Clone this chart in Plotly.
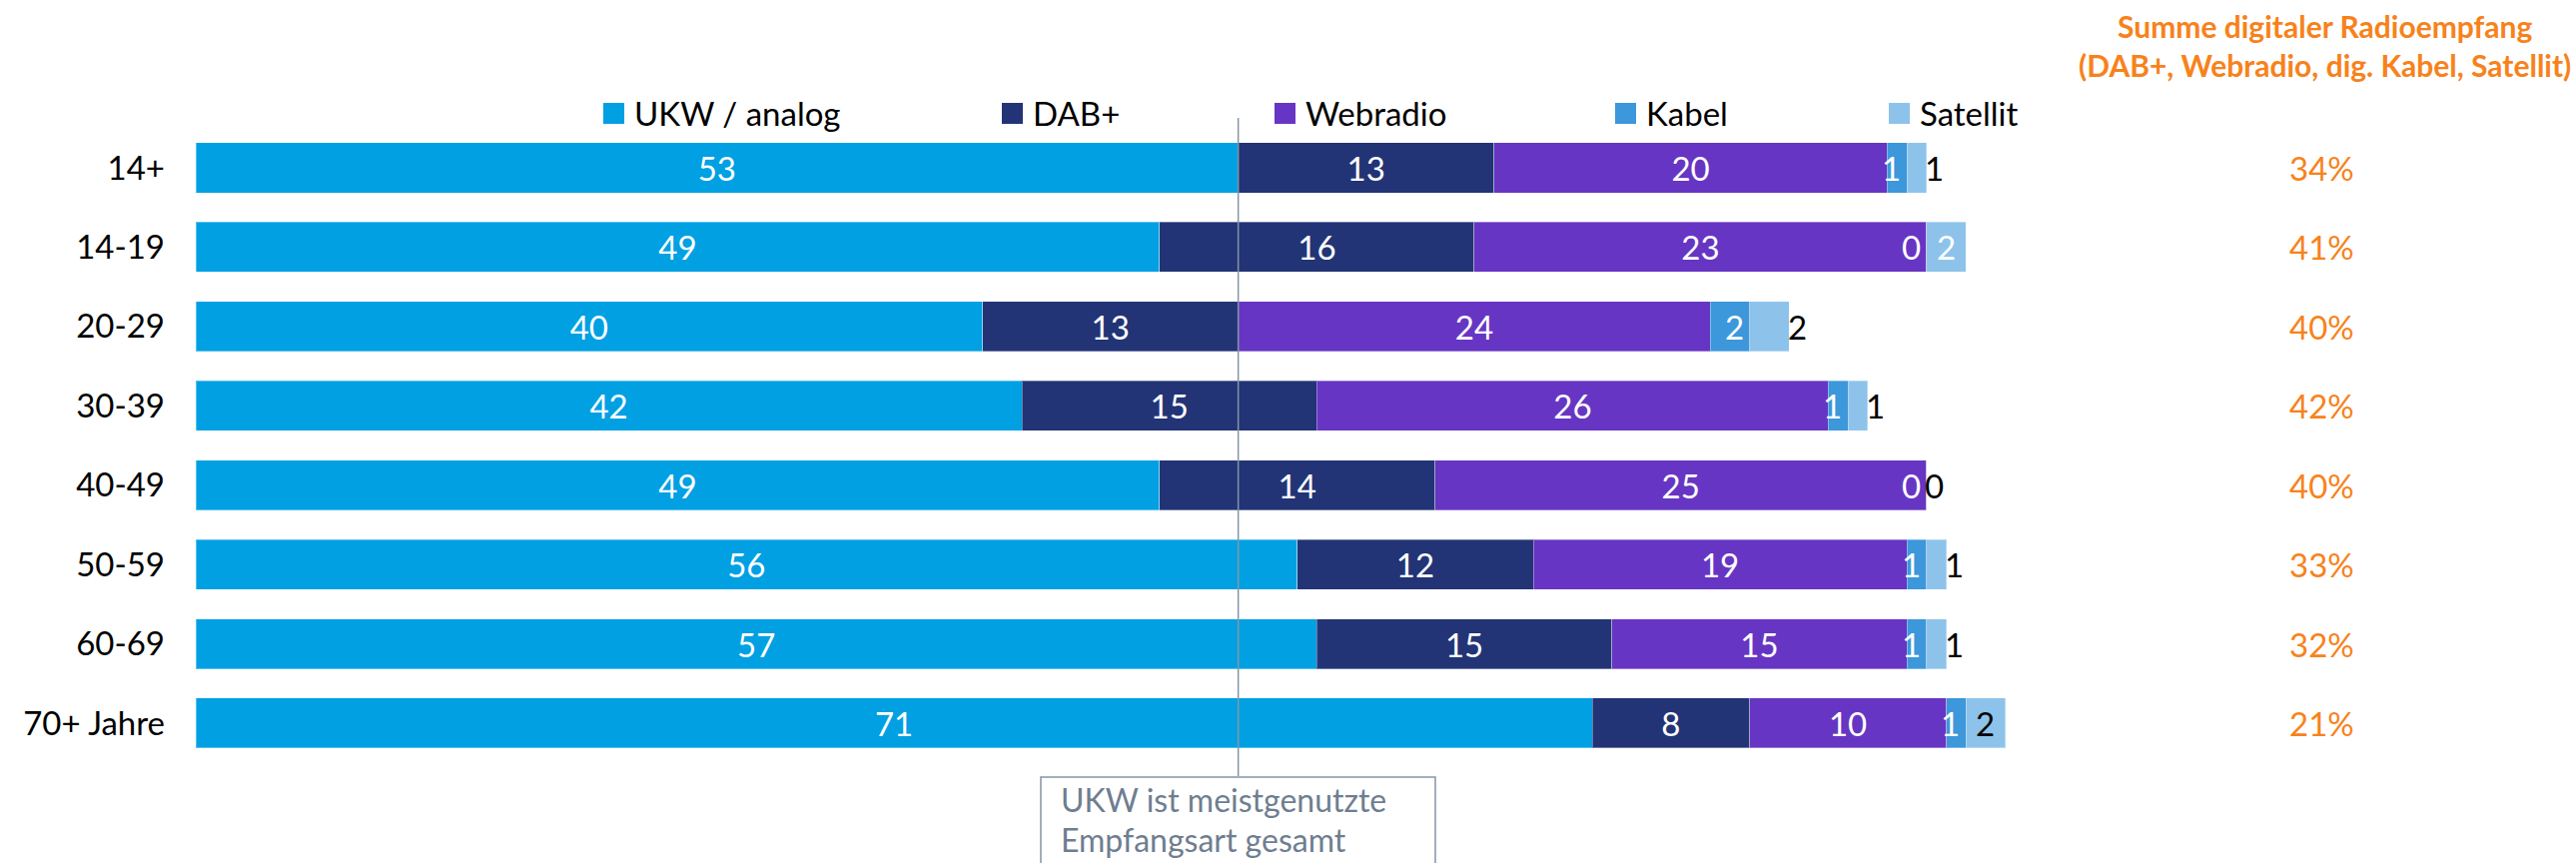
import plotly.graph_objects as go

# ---- data -----------------------------------------------------------------
AGE_GROUPS = ["14+", "14-19", "20-29", "30-39", "40-49", "50-59", "60-69", "70+ Jahre"]
UKW = [53, 49, 40, 42, 49, 56, 57, 71]
DAB = [13, 16, 13, 15, 14, 12, 15, 8]
WEBRADIO = [20, 23, 24, 26, 25, 19, 15, 10]
KABEL = [1, 0, 2, 1, 0, 1, 1, 1]
SATELLIT = [1, 2, 2, 1, 0, 1, 1, 2]
DIGITAL_SUM = [34, 41, 40, 42, 40, 33, 32, 21]

SERIES_NAMES = ["UKW / analog", "DAB+", "Webradio", "Kabel", "Satellit"]
SUM_TITLE = "Summe digitaler Radioempfang<br>(DAB+, Webradio, dig. Kabel, Satellit)"
NOTE_LINES = ["UKW ist meistgenutzte", "Empfangsart gesamt"]

# ---- styling ----------------------------------------------------------------
COLORS = ["#00A0E3", "#223476", "#6735C3", "#3C97DB", "#8DC3EB"]
ORANGE = "#F7821B"
NOTE_GREY = "#6E7E90"
LINE_GREY = "#8495A6"
FONT = "Lato, 'Open Sans', sans-serif"
FS = 33

# where the Satellit value sits (next to the bar end or inside the segment)
SAT_LABEL_MODE = ["end", "mid", "end", "end", "end", "end", "end", "mid"]
SAT_LABEL_COLOR = ["black", "white", "black", "black", "black", "black", "black", "black"]

W, H = 2579, 864
ML, MR = 196, 20
PW = W - ML - MR
X_MAX = 120


def px_x(px):
    return (px - ML) / PW


def px_y(py):
    return 1 - py / H


series = [UKW, DAB, WEBRADIO, KABEL, SATELLIT]

fig = go.Figure()
for i, (name, vals) in enumerate(zip(SERIES_NAMES, series)):
    labelled = i < 3
    fig.add_trace(go.Bar(
        name=name,
        y=AGE_GROUPS,
        x=vals,
        orientation="h",
        marker=dict(color=COLORS[i], line=dict(color="rgba(255,255,255,0.35)", width=1)),
        text=[str(v) for v in vals] if labelled else None,
        textposition="inside" if labelled else "none",
        insidetextanchor="middle",
        textangle=0,
        textfont=dict(family=FONT, size=FS, color="white"),
        showlegend=False,
        hoverinfo="x+name",
    ))

annotations = []

# Kabel and Satellit values
for r, grp in enumerate(AGE_GROUPS):
    kabel_end = UKW[r] + DAB[r] + WEBRADIO[r] + KABEL[r]
    annotations.append(dict(
        x=kabel_end, y=grp, xref="x", yref="y", text=str(KABEL[r]),
        xanchor="right", xshift=-4, showarrow=False,
        font=dict(family=FONT, size=FS, color="white"),
    ))
    total = kabel_end + SATELLIT[r]
    if SAT_LABEL_MODE[r] == "mid":
        sx, shift = total - SATELLIT[r] / 2, 0
    else:
        sx, shift = total, 8
    annotations.append(dict(
        x=sx, y=grp, xref="x", yref="y", text=str(SATELLIT[r]),
        xanchor="center", xshift=shift, showarrow=False,
        font=dict(family=FONT, size=FS, color=SAT_LABEL_COLOR[r]),
    ))
    # digital share on the right
    annotations.append(dict(
        x=px_x(2324), y=grp, xref="paper", yref="y", text=f"{DIGITAL_SUM[r]}%",
        xanchor="center", showarrow=False,
        font=dict(family=FONT, size=FS, color=ORANGE),
    ))

annotations.append(dict(
    x=px_x(2327), y=px_y(45), xref="paper", yref="paper", text=SUM_TITLE,
    xanchor="center", yanchor="middle", showarrow=False, align="center",
    font=dict(family=FONT, size=30, color=ORANGE, weight="bold"),
))

# custom legend row
LEGEND_LEFT = [604, 1003, 1276, 1617, 1891]
LEGEND_Y = 113.5
SQ = 21
shapes = []
for name, color, left in zip(SERIES_NAMES, COLORS, LEGEND_LEFT):
    shapes.append(dict(
        type="rect", xref="paper", yref="paper",
        x0=px_x(left), x1=px_x(left + SQ),
        y0=px_y(LEGEND_Y + SQ / 2), y1=px_y(LEGEND_Y - SQ / 2),
        fillcolor=color, line=dict(width=0),
    ))
    annotations.append(dict(
        x=px_x(left + SQ + 8), y=px_y(LEGEND_Y), xref="paper", yref="paper",
        text=name, xanchor="left", yanchor="middle", showarrow=False,
        font=dict(family=FONT, size=FS, color="black"),
    ))

# reference line at the overall UKW share and its note box
shapes.append(dict(
    type="line", xref="x", yref="paper",
    x0=UKW[0], x1=UKW[0], y0=px_y(118), y1=px_y(777),
    line=dict(color=LINE_GREY, width=1.5), layer="above",
))
shapes.append(dict(
    type="rect", xref="paper", yref="paper",
    x0=px_x(1042), x1=px_x(1437), y0=px_y(778), y1=px_y(920),
    line=dict(color=LINE_GREY, width=1.5), fillcolor="rgba(0,0,0,0)",
))
for line_txt, cy in zip(NOTE_LINES, [800, 840]):
    annotations.append(dict(
        x=px_x(1060), y=px_y(cy), xref="paper", yref="paper",
        text=line_txt, xanchor="left", yanchor="middle", showarrow=False,
        font=dict(family=FONT, size=32, color=NOTE_GREY),
    ))

fig.update_layout(
    width=W, height=H,
    margin=dict(l=ML, r=MR, t=0, b=0),
    barmode="stack",
    bargap=0.37,
    plot_bgcolor="white",
    paper_bgcolor="white",
    font=dict(family=FONT, size=FS, color="black"),
    xaxis=dict(range=[0, X_MAX], visible=False, fixedrange=True),
    yaxis=dict(
        type="category", categoryorder="array", categoryarray=AGE_GROUPS,
        range=[8.763, -2.115], showgrid=False, zeroline=False, showline=False,
        ticks="", ticklabelstandoff=30,
        tickfont=dict(family=FONT, size=FS, color="black"),
    ),
    shapes=shapes,
    annotations=annotations,
    showlegend=False,
)

fig.write_html("out.html")
